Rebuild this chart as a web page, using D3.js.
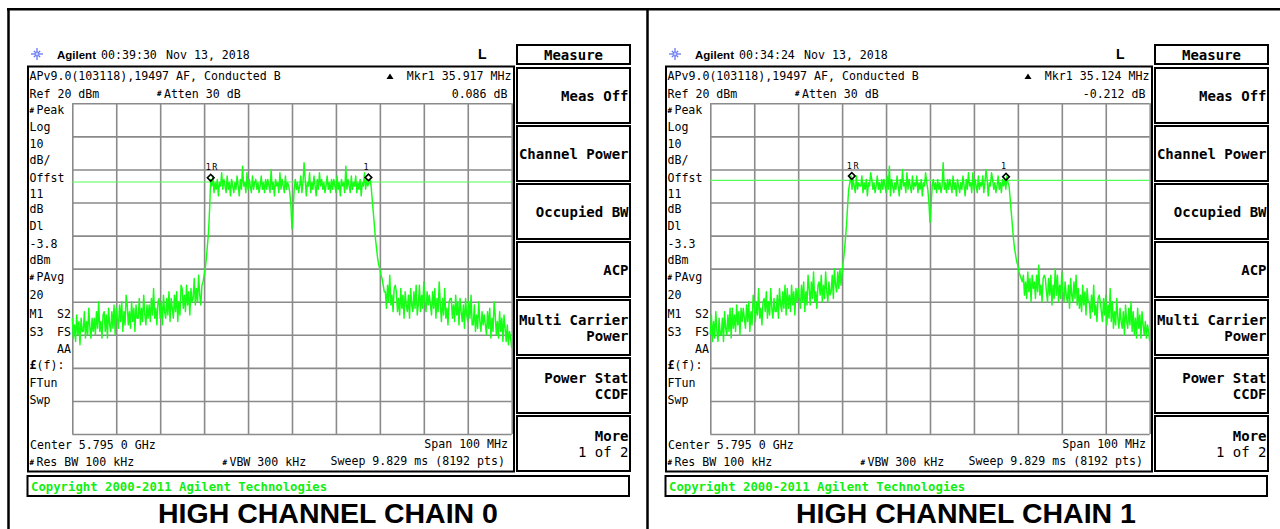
<!DOCTYPE html>
<html><head><meta charset="utf-8">
<script src="https://cdn.jsdelivr.net/npm/d3@7"></script>
<style>
html,body{margin:0;padding:0;background:#fff;}
svg{display:block;}
</style></head><body>
<svg id="c" width="1280" height="529"></svg>
<script>
// ---------------- DATA ----------------
const chainTitles = ["HIGH CHANNEL CHAIN 0", "HIGH CHANNEL CHAIN 1"];
const clockTimes = ["00:39:30", "00:34:24"];
const captureDate = "Nov 13, 2018";
const headerLine = "APv9.0(103118),19497 AF, Conducted B";
const markerDeltaFreq = ["35.917 MHz", "35.124 MHz"];
const markerDeltaLevel = ["0.086 dB", "-0.212 dB"];
const displayLineDbm = [-3.8, -3.3];
const markerFreqs = [[5776.5, 5812.4], [5777.2, 5812.3]];
const markerLevels = [[-2.5, -2.4], [-2.0, -2.2]];
const markerNames = ["1R", "1"];
const freqGrid = [5745, 5755, 5765, 5775, 5785, 5795, 5805, 5815, 5825, 5835, 5845];
const levelGrid = [20, 10, 0, -10, -20, -30, -40, -50, -60, -70, -80];
const sweepStartMHz = 5745, sweepStepMHz = 0.25;
// chain 0 trace (dBm), 401 sweep points 5745..5845 MHz
const trace0 = [
 -45,-51,-47,-52,-44,-50,-46,-53,-45,-49,
 -49,-43,-51,-46,-50,-42,-48,-51,-45,-49,
 -45,-50,-43,-48,-40,-49,-46,-51,-44,-43,
 -49,-44,-51,-42,-47,-49,-43,-48,-41,-50,
 -42,-45,-48,-41,-46,-40,-49,-43,-47,-38,
 -41,-47,-43,-48,-40,-46,-42,-49,-41,-45,
 -45,-39,-47,-42,-46,-38,-44,-47,-41,-45,
 -41,-46,-39,-44,-36,-45,-42,-47,-40,-39,
 -45,-40,-47,-38,-43,-45,-39,-44,-37,-46,
 -39,-42,-45,-38,-43,-37,-46,-40,-44,-35,
 -36,-42,-38,-43,-35,-41,-37,-44,-36,-40,
 -39,-33,-41,-36,-40,-32,-38,-41,-35,-34,
 -32,-30,-27,-23,-19,-12,-3,
 -5,-2,-7,-4,-6,-3,-8,-4,-5,-1,
 -6,-3,-5,-7,-2,-6,-4,-8,-3,-5,
 -7,-4,-6,-2,-5,-8,-3,-6,1,-5,
 -4,-7,-1,-6,-3,-5,-7,-2,-6,-4,
 -3,-6,-4,-7,-5,-2,-6,-4,-7,-3,
 -6,-3,-5,-7,0,-6,-4,-8,-3,-5,
 -4,-7,-1,-6,-3,-5,-7,-2,-6,-4,
 -5,-7,-11,-18,-12,-6,-3,-6,-4,-7,
 -5,-2,-7,-4,2,-3,-8,-4,-5,-1,
 -7,-4,-6,-2,-5,-8,-3,-6,-1,-5,
 -3,-6,-4,-7,-5,-2,-6,-4,-7,-3,
 -6,-3,-5,-7,-2,-6,-4,-8,-3,-5,
 -4,-7,1,-6,-3,-5,-7,-2,-6,-4,
 -5,-2,-7,-4,-6,-3,-8,-4,-5,-1,
 -6,-3,-5,-4,-3,
 -5,-9,-13,-17,-21,-24,-27,-29,-30,-32,-33,-35,-37,
 -37,-42,-35,-40,-32,-41,-38,-43,-36,-35,
 -37,-43,-39,-44,-36,-42,-38,-45,-37,-41,
 -43,-38,-45,-36,-41,-43,-37,-42,-35,-44,
 -41,-35,-43,-38,-42,-34,-40,-43,-37,-41,
 -38,-41,-44,-37,-42,-36,-45,-39,-43,-34,
 -41,-46,-39,-44,-36,-45,-42,-47,-40,-39,
 -39,-45,-41,-46,-38,-44,-40,-47,-39,-43,
 -46,-41,-48,-39,-44,-46,-40,-45,-38,-47,
 -47,-41,-49,-44,-48,-40,-46,-49,-43,-47,
 -44,-47,-50,-43,-48,-42,-51,-45,-49,-40,
 -44,-50,-46,-51,-43,-49,-45,-52,-44,-48,
 -52,-47,-53,-49,-51,-54
];
// chain 1 trace (dBm), 401 sweep points 5745..5845 MHz
const trace1 = [
 -50,-44,-52,-46,-51,-43,-49,-52,-45,-50,
 -50,-45,-52,-43,-48,-50,-44,-49,-42,-51,
 -42,-48,-44,-49,-41,-47,-43,-50,-42,-46,
 -42,-45,-48,-41,-46,-40,-49,-43,-47,-38,
 -41,-46,-40,-44,-36,-45,-42,-47,-40,-39,
 -43,-37,-45,-40,-44,-36,-42,-45,-39,-43,
 -43,-38,-45,-36,-41,-43,-37,-42,-35,-44,
 -36,-42,-38,-43,-35,-41,-37,-44,-36,-40,
 -36,-39,-42,-35,-40,-34,-43,-37,-41,-32,
 -36,-41,-34,-39,-31,-40,-37,-42,-35,-34,
 -38,-32,-40,-35,-39,-31,-37,-40,-34,-38,
 -37,-32,-39,-30,-35,-37,-31,-36,-30,-35,
 -31,-28,-25,-21,-17,-11,-6,
 -4,-2,-6,-3,-5,-7,-2,-6,-4,-5,
 -5,-2,-7,-4,-6,-3,-8,-4,-5,-1,
 -3,-6,-4,-7,-5,-2,-6,-4,-7,-3,
 -6,-3,-5,-7,-2,-6,1,-8,-3,-5,
 -7,-4,-6,-2,-5,-8,-3,-6,0,-5,
 -4,-7,-1,-6,-3,-5,-7,-2,-6,-4,
 -5,-2,-7,-4,-6,-3,-8,-4,-5,-1,
 -4,-6,-10,-16,-11,-5,-3,-6,-4,-7,
 -3,-6,-4,-7,-5,2,-6,-4,-7,-3,
 -6,-3,-5,-7,-2,-6,-4,-8,-3,-5,
 -7,-4,-6,-2,-5,-8,-3,-6,-1,-5,
 -4,-7,-1,-6,-3,-5,-7,-2,-6,-4,
 -5,-2,-7,-4,0,-3,-8,-4,-5,-1,
 -3,-6,-4,-7,-5,-2,-6,-4,-7,-3,
 -5,-3,-6,-2,-4,
 -5,-9,-13,-17,-21,-24,-26,-28,-29,-31,-32,-33,-34,
 -32,-38,-34,-39,-31,-37,-33,-40,-32,-36,
 -34,-39,-32,-37,-29,-38,-35,-40,-33,-32,
 -33,-37,-40,-33,-38,-32,-41,-35,-39,-30,
 -38,-32,-40,-35,-39,-31,-37,-40,-34,-38,
 -40,-35,-42,-33,-38,-40,-34,-39,-32,-41,
 -36,-42,-38,-43,-35,-41,-37,-44,-36,-40,
 -40,-45,-38,-43,-35,-44,-41,-46,-39,-38,
 -40,-43,-46,-39,-44,-38,-47,-41,-45,-36,
 -46,-40,-48,-43,-47,-39,-45,-48,-42,-46,
 -48,-43,-50,-41,-46,-48,-42,-47,-40,-49,
 -43,-50,-45,-51,-42,-48,-44,-51,-43,-47,
 -50,-46,-51,-47,-49,-52
];
const softkeyTitle = "Measure";
const softkeys = [["Meas Off"], ["Channel Power"], ["Occupied BW"], ["ACP"], ["Multi Carrier", "Power"], ["Power Stat", "CCDF"], ["More", "1 of 2"]];
const sideLabels = ["#Peak", "Log", "10", "dB/", "Offst", "11", "dB", "Dl", "DLVALUE", "dBm", "#PAvg", "20", ["M1", "S2"], ["S3", "FS"], ["", "AA"], "£(f):", "FTun", "Swp"];
const refLabel = "Ref 20 dBm", attenLabel = "#Atten 30 dB";
const centerLabel = "Center 5.795 0 GHz", spanLabel = "Span 100 MHz";
const rbwLabel = "#Res BW 100 kHz", vbwLabel = "#VBW 300 kHz", sweepLabel = "Sweep 9.829 ms (8192 pts)";
const copyrightLabel = "Copyright 2000-2011 Agilent Technologies";

// ---------------- DRAW ----------------
const svg = d3.select("#c");
const MONO = "'DejaVu Sans Mono', 'Liberation Mono', monospace";
const SANS = "'Liberation Sans', Arial, sans-serif";
const panelOffsets = [0, 638];
const sweepFreqs = trace0.map((_, i) => sweepStartMHz + i * sweepStepMHz);

function label(g, x, y, str, o = {}) {
  const t = g.append("text").attr("x", x).attr("y", y)
    .attr("font-family", o.family || MONO)
    .attr("font-size", o.size || 11.6)
    .attr("font-weight", o.weight || "normal")
    .attr("text-anchor", o.anchor || "start")
    .attr("fill", o.fill || "#000");
  if (str.startsWith("#")) {
    t.append("tspan").attr("font-size", 7.5).attr("font-weight", "bold").attr("dy", -1.5).text("#");
    t.append("tspan").attr("dx", 2.4).attr("dy", 1.5).text(str.slice(1));
  } else if (str.startsWith("£")) {
    t.append("tspan").attr("font-weight", "bold").text("£");
    t.append("tspan").text(str.slice(1));
  } else t.text(str);
  return t;
}

// outer frame
svg.append("line").attr("x1", 7).attr("x2", 1280).attr("y1", 9.3).attr("y2", 9.3).attr("stroke", "#000").attr("stroke-width", 2.5);
svg.append("line").attr("x1", 8.5).attr("x2", 8.5).attr("y1", 8).attr("y2", 529).attr("stroke", "#000").attr("stroke-width", 2.5);
svg.append("line").attr("x1", 647.5).attr("x2", 647.5).attr("y1", 8).attr("y2", 529).attr("stroke", "#000").attr("stroke-width", 2.5);

function drawPanel(k) {
  const g = svg.append("g").attr("transform", `translate(${panelOffsets[k]},0)`);
  const trace = k === 0 ? trace0 : trace1;
  const L = 72.3, R = 511.7, T = 103.3, B = 434;
  const x = d3.scaleLinear().domain([freqGrid[0], freqGrid[freqGrid.length - 1]]).range([L, R]);
  const y = d3.scaleLinear().domain([levelGrid[0], levelGrid[levelGrid.length - 1]]).range([T, B]);

  // header
  const star = g.append("g").attr("transform", "translate(37,54)");
  for (let a = 0; a < 8; a++) {
    const ang = a * Math.PI / 4;
    star.append("line").attr("x1", 0).attr("y1", 0)
      .attr("x2", Math.cos(ang) * (a % 2 ? 4.5 : 6)).attr("y2", Math.sin(ang) * (a % 2 ? 4.5 : 6))
      .attr("stroke", "#5a6df2").attr("stroke-width", 1.2);
  }
  star.append("circle").attr("r", 2).attr("fill", "#c9d0ff").attr("stroke", "#5a6df2").attr("stroke-width", 0.8);
  label(g, 57, 58.5, "Agilent", { family: SANS, size: 11.5, weight: "bold" });
  label(g, 101, 58.5, clockTimes[k]);
  label(g, 166, 58.5, captureDate);
  label(g, 478, 59, "L", { family: SANS, size: 14, weight: "bold" });

  // Measure title box
  g.append("rect").attr("x", 517).attr("y", 45).attr("width", 113).attr("height", 19)
    .attr("fill", "#fff").attr("stroke", "#000").attr("stroke-width", 2);
  label(g, 573.5, 59.5, softkeyTitle, { size: 14, weight: "bold", anchor: "middle" });

  // softkeys
  softkeys.forEach((lines, i) => {
    const top = 68 + i * 58;
    g.append("rect").attr("x", 517).attr("y", top).attr("width", 113).attr("height", 55)
      .attr("fill", "#fff").attr("stroke", "#000").attr("stroke-width", 2);
    if (lines.length === 1) {
      label(g, 628.5, top + 33, lines[0], { size: 14, weight: "bold", anchor: "end" });
    } else {
      label(g, 628.5, top + 24.5, lines[0], { size: 14, weight: "bold", anchor: "end" });
      label(g, 628.5, top + 40.5, lines[1], { size: 14, weight: i === 6 ? "normal" : "bold", anchor: "end" });
    }
  });

  // main screen box
  g.append("rect").attr("x", 28).attr("y", 66.5).attr("width", 486).attr("height", 405)
    .attr("fill", "#fff").attr("stroke", "#000").attr("stroke-width", 2);

  // top info rows
  label(g, 29.5, 79.5, headerLine);
  g.append("path").attr("d", "M386.5,79 L393.5,79 L390,73.5 Z").attr("fill", "#000");
  label(g, 511.5, 79.5, "Mkr1  " + markerDeltaFreq[k], { anchor: "end" });
  label(g, 29.5, 97.5, refLabel);
  label(g, 157, 97.5, attenLabel);
  label(g, 507.5, 97.5, markerDeltaLevel[k], { anchor: "end" });

  // side labels
  const baselines = [114, 130.5, 147.5, 164, 181.5, 197.5, 213, 230, 247.5, 264, 281, 299, 318, 335.5, 352.5, 369, 386.5, 403.5];
  sideLabels.forEach((s, i) => {
    if (Array.isArray(s)) {
      if (s[0]) label(g, 29.5, baselines[i], s[0]);
      label(g, 71, baselines[i], s[1], { anchor: "end" });
    } else {
      const txt = s === "DLVALUE" ? d3.format(".1f")(displayLineDbm[k]).replace("−", "-") : s;
      label(g, 29.5, baselines[i], txt);
    }
  });

  // grid
  const gx = g.append("g").attr("transform", `translate(0,${B})`)
    .call(d3.axisBottom(x).tickValues(freqGrid).tickSize(-(B - T)).tickFormat(""));
  const gy = g.append("g").attr("transform", `translate(${L},0)`)
    .call(d3.axisLeft(y).tickValues(levelGrid).tickSize(-(R - L)).tickFormat(""));
  [gx, gy].forEach(a => {
    a.select(".domain").remove();
    a.selectAll("line").attr("stroke", "#8a8a8a").attr("stroke-width", 1.6);
  });

  // display line
  g.append("line").attr("x1", x(freqGrid[0])).attr("x2", x(freqGrid[freqGrid.length - 1]))
    .attr("y1", y(displayLineDbm[k])).attr("y2", y(displayLineDbm[k]))
    .attr("stroke", "#55ff55").attr("stroke-width", 1.2);

  // trace
  const line = d3.line().x((d, i) => x(sweepFreqs[i])).y(d => y(d));
  g.append("path").datum(trace).attr("d", line)
    .attr("fill", "none").attr("stroke", "#14ff14").attr("stroke-width", 1.45).attr("stroke-linejoin", "round");

  // markers
  markerFreqs[k].forEach((f, j) => {
    const mx = x(f), my = y(markerLevels[k][j]);
    g.append("path").attr("d", d3.symbol(d3.symbolSquare, 22)())
      .attr("transform", `translate(${mx},${my}) rotate(45)`)
      .attr("fill", "none").attr("stroke", "#000").attr("stroke-width", 1.6);
    g.append("text").attr("x", mx - 5).attr("y", my - 7.5)
      .attr("font-family", MONO).attr("font-size", 8.5).attr("letter-spacing", 1.5)
      .attr("fill", "#000").text(markerNames[j]);
  });

  // bottom rows
  label(g, 30, 448.5, centerLabel);
  label(g, 508, 447.5, spanLabel, { anchor: "end" });
  label(g, 29.5, 466, rbwLabel);
  label(g, 222.5, 466, vbwLabel);
  label(g, 505, 465, sweepLabel, { anchor: "end" });

  // copyright bar
  g.append("rect").attr("x", 27.5).attr("y", 476).attr("width", 601.5).attr("height", 20)
    .attr("fill", "#fff").attr("stroke", "#000").attr("stroke-width", 2);
  label(g, 31, 490.5, copyrightLabel, { size: 12.3, weight: "bold", fill: "#11ee11" });

  // title
  label(g, 328, 522.5, chainTitles[k], { family: SANS, size: 28.5, weight: "bold", anchor: "middle" });
}

drawPanel(0);
drawPanel(1);
</script>
</body></html>
